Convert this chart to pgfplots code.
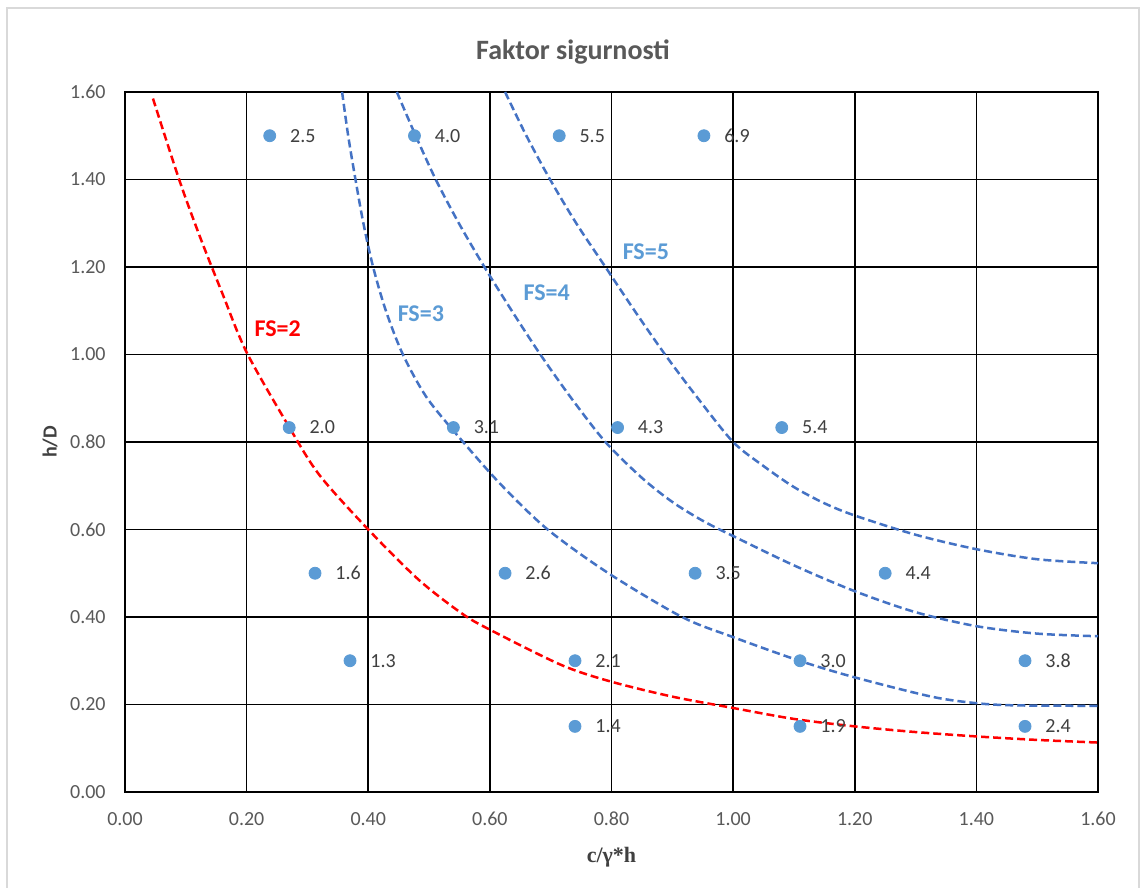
\documentclass[border=0pt]{standalone}
\usepackage{fontspec}
\setmainfont{Carlito}
\newfontfamily\lserif{Liberation Serif}
\usepackage{pgfplots}
\pgfplotsset{compat=1.18}
\definecolor{ptblue}{HTML}{5B9BD5}
\definecolor{lineblue}{HTML}{4472C4}
\definecolor{txtgray}{HTML}{595959}
\definecolor{lblgray}{HTML}{404040}
\definecolor{framegray}{HTML}{D9D9D9}
\pgfplotstableread{
x y lab
0.238 1.5 2.5
0.476 1.5 4.0
0.714 1.5 5.5
0.952 1.5 6.9
0.270 0.833 2.0
0.540 0.833 3.1
0.810 0.833 4.3
1.080 0.833 5.4
0.3125 0.5 1.6
0.625 0.5 2.6
0.9375 0.5 3.5
1.250 0.5 4.4
0.370 0.3 1.3
0.740 0.3 2.1
1.110 0.3 3.0
1.480 0.3 3.8
0.740 0.15 1.4
1.110 0.15 1.9
1.480 0.15 2.4
}\pts
\begin{document}
\begin{tikzpicture}
\useasboundingbox (-62.5pt,-48pt) rectangle (508.5pt,396pt);
\fill[white] (-62.5pt,-48pt) rectangle (508.5pt,396pt);
\draw[framegray, line width=0.75pt] (-59pt,-60pt) -- (-59pt,392pt) -- (507pt,392pt) -- (507pt,-60pt);
\begin{axis}[
  at={(0pt,0pt)}, anchor=south west,
  scale only axis, width=486.5pt, height=350pt,
  xmin=0, xmax=1.6, ymin=0, ymax=1.6,
  xtick={0,0.2,0.4,0.6,0.8,1.0,1.2,1.4,1.6},
  ytick={0,0.2,0.4,0.6,0.8,1.0,1.2,1.4,1.6},
  grid=major, major grid style={black, line width=0.75pt},
  axis line style={black, line width=0.75pt},
  major tick length=0pt,
  /pgf/number format/assume math mode=true,
  xticklabel style={/pgf/number format/fixed, /pgf/number format/fixed zerofill, /pgf/number format/precision=2, anchor=center, yshift=-13.5pt},
  yticklabel style={/pgf/number format/fixed, /pgf/number format/fixed zerofill, /pgf/number format/precision=2, anchor=east, xshift=-9.5pt},
  tick label style={font=\fontsize{10}{12}\selectfont, text=txtgray, inner sep=0pt},
  xlabel={\lserif\bfseries c/γ*h},
  xlabel style={at={(axis description cs:0.5,-0.0929)}, anchor=center, font=\fontsize{11}{13}\selectfont, text=lblgray, inner sep=0pt},
  ylabel={\bfseries h/D},
  ylabel style={at={(axis description cs:-0.0771,0.5)}, anchor=center, font=\fontsize{10}{12}\selectfont, text=lblgray, inner sep=0pt},
]
% FS=2
\addplot[red, line width=1.25pt, dash pattern=on 4pt off 2pt, smooth] coordinates {
(0.046,1.585) (0.089,1.40) (0.123,1.27) (0.16,1.14) (0.2,1.005) (0.27,0.834) (0.32,0.724) (0.40,0.60) (0.483,0.485) (0.554,0.408) (0.6,0.371) (0.718,0.29) (0.8,0.252) (0.9,0.218) (1.0,0.192) (1.1,0.167) (1.2,0.150) (1.3,0.137) (1.4,0.127) (1.5,0.119) (1.6,0.113)
};
% FS=3
\addplot[lineblue, line width=1.25pt, dash pattern=on 4pt off 2pt, smooth] coordinates {
(0.357,1.6) (0.367,1.5) (0.379,1.4) (0.392,1.3) (0.408,1.2) (0.429,1.1) (0.457,1.0) (0.497,0.9) (0.556,0.8) (0.620,0.7) (0.695,0.6) (0.795,0.5) (0.916,0.4) (1.0,0.354) (1.109,0.30) (1.2,0.262) (1.326,0.218) (1.4,0.203) (1.464,0.198) (1.6,0.197)
};
% FS=4
\addplot[lineblue, line width=1.25pt, dash pattern=on 4pt off 2pt, smooth] coordinates {
(0.447,1.6) (0.478,1.5) (0.511,1.4) (0.549,1.3) (0.591,1.2) (0.636,1.1) (0.683,1.0) (0.734,0.9) (0.79,0.8) (0.85,0.718) (0.9,0.663) (0.95,0.62) (1.0,0.585) (1.1,0.518) (1.2,0.459) (1.3,0.411) (1.4,0.379) (1.5,0.362) (1.6,0.356)
};
% FS=5
\addplot[lineblue, line width=1.25pt, dash pattern=on 4pt off 2pt, smooth] coordinates {
(0.625,1.6) (0.66,1.5) (0.699,1.4) (0.742,1.3) (0.79,1.2) (0.838,1.1) (0.888,1.0) (0.942,0.9) (1.0,0.8) (1.05,0.745) (1.1,0.697) (1.15,0.66) (1.2,0.632) (1.3,0.588) (1.4,0.555) (1.5,0.532) (1.6,0.523)
};
\addplot[only marks, mark=*, mark size=3pt, color=ptblue, point meta=explicit symbolic,
  nodes near coords,
  nodes near coords style={anchor=west, xshift=10pt, inner sep=0pt, font=\fontsize{10}{12}\selectfont, text=lblgray}]
  table[x=x, y=y, meta=lab] {\pts};
\node[text=red, font=\fontsize{12}{14}\selectfont\bfseries] at (axis cs:0.251,1.058) {FS=2};
\node[text=ptblue, font=\fontsize{12}{14}\selectfont\bfseries] at (axis cs:0.4865,1.0925) {FS=3};
\node[text=ptblue, font=\fontsize{12}{14}\selectfont\bfseries] at (axis cs:0.6935,1.142) {FS=4};
\node[text=ptblue, font=\fontsize{12}{14}\selectfont\bfseries] at (axis cs:0.8565,1.234) {FS=5};
\end{axis}
\node[text=txtgray, font=\fontsize{14}{16}\selectfont\bfseries] at (224pt,370pt) {Faktor sigurnosti};
\end{tikzpicture}
\end{document}
